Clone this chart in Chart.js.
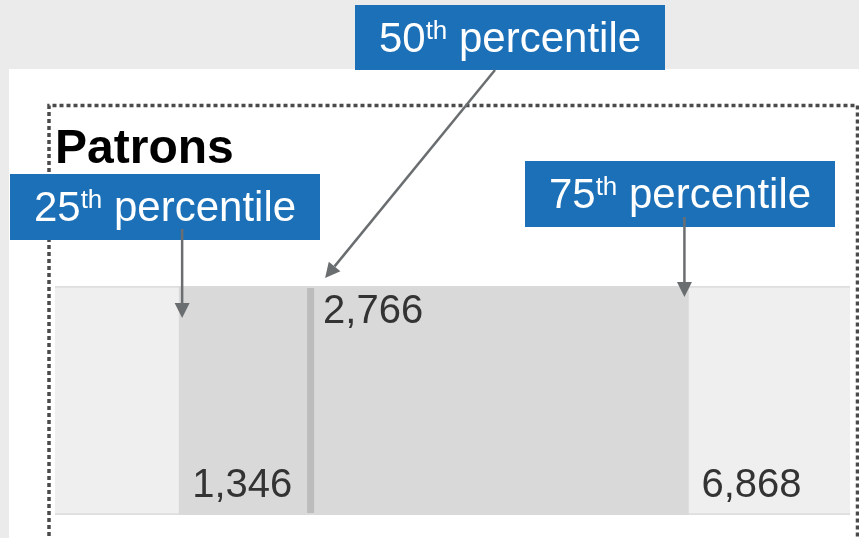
<!DOCTYPE html>
<html>
<head>
<meta charset="utf-8">
<script src="https://cdn.jsdelivr.net/npm/chart.js@4.4.1/dist/chart.umd.min.js"></script>
<style>
  html, body { margin: 0; padding: 0; background: #ebebeb; overflow: hidden; }
  #wrap { position: relative; width: 859px; height: 538px; }
  canvas { display: block; }
</style>
</head>
<body>
<div id="wrap"><canvas id="chart" width="859" height="538"></canvas></div>
<script>
// Patron counts at the quartiles
const category = ['Patrons'];
const percentileOrdinals = ['25', '50', '75'];
const percentileValues = [1346, 2766, 6868];
const valueLabels = ['1,346', '2,766', '6,868'];

// Value axis extent (the pale track spans all of it)
const axisMin = 0;
const axisMax = 8620;

const FONT = '"Liberation Sans", Arial, Helvetica, sans-serif';

// Page backdrop: grey page, white panel, dotted frame
const backdrop = {
  id: 'backdrop',
  beforeDraw(chart) {
    const ctx = chart.ctx;
    ctx.save();
    ctx.fillStyle = '#ebebeb';
    ctx.fillRect(0, 0, chart.width, chart.height);
    ctx.fillStyle = '#ffffff';
    ctx.fillRect(9, 69, chart.width - 9, chart.height - 69);
    ctx.strokeStyle = '#4a4a4a';
    ctx.lineWidth = 3.5;
    ctx.setLineDash([4, 3]);
    ctx.beginPath();
    ctx.moveTo(49, chart.height + 5);
    ctx.lineTo(49, 105.5);
    ctx.lineTo(857.5, 105.5);
    ctx.lineTo(857.5, chart.height + 5);
    ctx.stroke();
    ctx.restore();
  }
};

// Median marker and value labels
const marks = {
  id: 'marks',
  afterDatasetsDraw(chart) {
    const ctx = chart.ctx;
    const x = chart.scales.x;
    const area = chart.chartArea;
    ctx.save();
    const mx = x.getPixelForValue(percentileValues[1]);
    ctx.fillStyle = '#bcbcbc';
    ctx.fillRect(mx - 3, area.top + 2, 7, area.bottom - area.top - 4);

    ctx.font = '40px ' + FONT;
    ctx.fillStyle = '#333333';
    ctx.textAlign = 'left';
    ctx.textBaseline = 'alphabetic';
    percentileValues.forEach((v, i) => {
      const px = x.getPixelForValue(v) + 13;
      const py = i === 1 ? area.top + 37 : area.bottom - 18;
      ctx.fillText(valueLabels[i], px, py);
    });
    ctx.restore();
  }
};

// Blue callout boxes with arrows pointing at each quartile
const callouts = {
  id: 'callouts',
  afterDraw(chart) {
    const ctx = chart.ctx;
    const x = chart.scales.x;
    const area = chart.chartArea;
    const specs = [
      { box: [10, 174, 310, 66], start: null, startY: 229, dx: 3, dy: 32 },
      { box: [355, 5, 310, 65], start: [495, 70], dx: 15, dy: -8 },
      { box: [525, 161, 310, 66], start: null, startY: 217, dx: -4, dy: 11 }
    ];
    ctx.save();
    specs.forEach((s, i) => {
      const [bx, by, bw, bh] = s.box;
      ctx.fillStyle = '#1b70b8';
      ctx.fillRect(bx, by, bw, bh);

      const big = '42px ' + FONT;
      const small = '26px ' + FONT;
      const num = percentileOrdinals[i];
      const rest = ' percentile';
      ctx.font = big;
      const wNum = ctx.measureText(num).width;
      const wRest = ctx.measureText(rest).width;
      ctx.font = small;
      const wSup = ctx.measureText('th').width;
      const total = wNum + wSup + wRest;
      let tx = bx + (bw - total) / 2;
      const base = by + 47;
      ctx.fillStyle = '#ffffff';
      ctx.textAlign = 'left';
      ctx.textBaseline = 'alphabetic';
      ctx.font = big;
      ctx.fillText(num, tx, base);
      tx += wNum;
      ctx.font = small;
      ctx.fillText('th', tx, base - 13);
      tx += wSup;
      ctx.font = big;
      ctx.fillText(rest, tx, base);
    });

    specs.forEach((s, i) => {
      const tipX = x.getPixelForValue(percentileValues[i]) + s.dx;
      const tipY = area.top + s.dy;
      const sx = s.start ? s.start[0] : tipX;
      const sy = s.start ? s.start[1] : s.startY;
      const ang = Math.atan2(tipY - sy, tipX - sx);
      const head = 15, half = 7.5;
      const baseX = tipX - head * Math.cos(ang);
      const baseY = tipY - head * Math.sin(ang);
      ctx.strokeStyle = '#6b6e70';
      ctx.fillStyle = '#6b6e70';
      ctx.lineWidth = 2.5;
      ctx.beginPath();
      ctx.moveTo(sx, sy);
      ctx.lineTo(baseX, baseY);
      ctx.stroke();
      ctx.beginPath();
      ctx.moveTo(tipX, tipY);
      ctx.lineTo(baseX + half * Math.sin(ang), baseY - half * Math.cos(ang));
      ctx.lineTo(baseX - half * Math.sin(ang), baseY + half * Math.cos(ang));
      ctx.closePath();
      ctx.fill();
    });
    ctx.restore();
  }
};

new Chart(document.getElementById('chart'), {
  type: 'bar',
  data: {
    labels: category,
    datasets: [
      {
        label: 'Interquartile range',
        data: [[percentileValues[0], percentileValues[2]]],
        backgroundColor: '#d9d9d9',
        borderWidth: 0,
        order: 1
      },
      {
        label: 'Range',
        data: [[axisMin, axisMax]],
        backgroundColor: '#efefef',
        borderColor: '#dedede',
        borderWidth: { top: 2, bottom: 2, left: 0, right: 0 },
        borderSkipped: false,
        order: 2
      }
    ]
  },
  options: {
    indexAxis: 'y',
    responsive: false,
    animation: false,
    devicePixelRatio: 1,
    events: [],
    layout: { padding: { left: 55, right: 9, top: 121, bottom: 23 } },
    datasets: { bar: { grouped: false, barPercentage: 1, categoryPercentage: 1 } },
    scales: {
      x: { type: 'linear', min: axisMin, max: axisMax, display: false },
      y: { display: false }
    },
    plugins: {
      legend: { display: false },
      tooltip: { enabled: false },
      title: {
        display: true,
        text: category[0],
        align: 'start',
        color: '#000000',
        font: { family: FONT, size: 48, weight: 'bold', lineHeight: 1.2 },
        padding: { top: 0, bottom: 107.4 }
      }
    }
  },
  plugins: [backdrop, marks, callouts]
});
</script>
</body>
</html>
